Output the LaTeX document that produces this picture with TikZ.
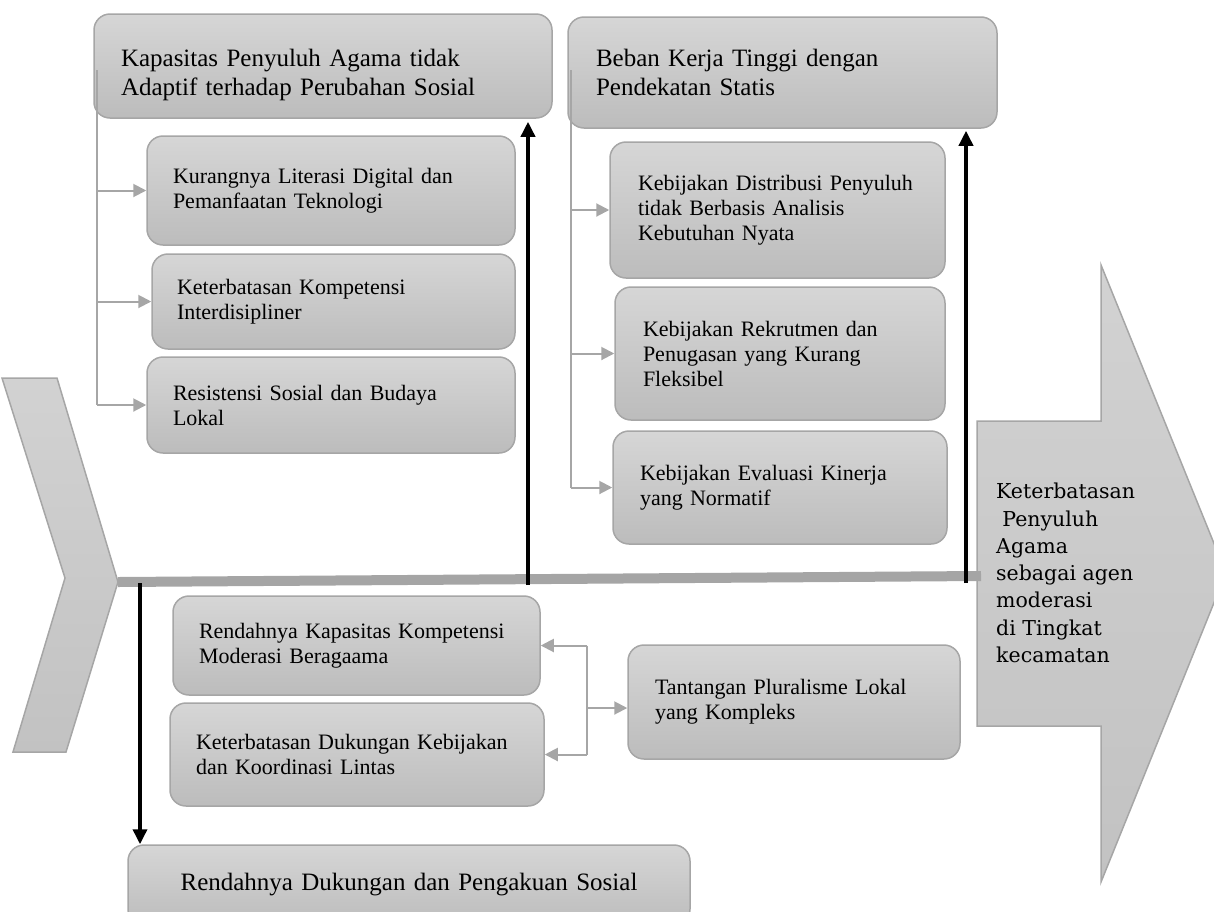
\documentclass[tikz,border=0pt]{standalone}
\usepackage{fontspec}
\setmainfont{Liberation Serif}
\newfontfamily\arrowfont{DejaVu Serif}
\usetikzlibrary{arrows.meta}
\definecolor{boxline}{HTML}{A6A6A6}
\definecolor{boxtop}{HTML}{D6D6D6}
\definecolor{boxbot}{HTML}{BCBCBC}
\definecolor{shapetop}{HTML}{D2D2D2}
\definecolor{shapebot}{HTML}{C2C2C2}
\definecolor{conn}{HTML}{A6A6A6}
\definecolor{spinecol}{HTML}{A5A5A5}
\tikzset{
  box/.style={draw=boxline, line width=1.5pt, rounded corners=16pt,
    top color=boxtop, bottom color=boxbot, inner ysep=0pt, align=left,
    font=\fontsize{22}{25}\selectfont},
  bigbox/.style={box, font=\fontsize{25}{29}\selectfont},
  centerbox/.style={box, align=center, font=\fontsize{25}{29}\selectfont},
  bigshape/.style={draw=boxline, line width=1.5pt, top color=shapetop, bottom color=shapebot},
  gline/.style={draw=conn, line width=2pt},
  garrow/.style={draw=conn, line width=2pt, -{Triangle[length=13pt,width=13pt,fill=conn]}},
  barrow/.style={draw=black, line width=3.5pt, -{Triangle[length=15pt,width=14pt]}},
  spine/.style={draw=spinecol, line width=10pt},
}
\newcommand\mkbox[8]{%
  \pgfmathsetmacro\mbW{#5-#3}\pgfmathsetmacro\mbH{#6-#4}%
  \pgfmathsetmacro\mbT{#5-#3-2*#7}%
  \pgfmathsetmacro\mbX{(#3+#5)/2}\pgfmathsetmacro\mbY{(#4+#6)/2}%
  \node[#1, minimum width=\mbW pt, minimum height=\mbH pt, text width=\mbT pt,
        inner xsep=#7pt] (#2) at (\mbX,\mbY) {#8};}
\begin{document}
\begin{tikzpicture}[x=1pt,y=-1pt]
\useasboundingbox (0,0) rectangle (1214,911);
\clip (0,0) rectangle (1214,911);
% left chevron (head of the fish bone)
\draw[bigshape] (2,378) -- (57,378) -- (118,582) -- (66,752) -- (13,752) -- (65,578) -- cycle;
\coordinate (chevtip) at (118,582);
% right big arrow (effect)
\draw[bigshape] (977,421) -- (1101,421) -- (1101,265) -- (1226,573) -- (1101,882) -- (1101,726) -- (977,726) -- cycle;
\coordinate (spineR) at (981,576);
% spine
\draw[spine] (chevtip) -- (spineR);
% result text
\node[anchor=north west, inner sep=0pt, align=left,
      font=\arrowfont\fontsize{20.5}{27.3}\selectfont] (result) at (996,483)
  {Keterbatasan\\\hspace{0.3em}Penyuluh\\Agama\\sebagai agen\\moderasi\\di Tingkat\\kecamatan};
% upper left group
\mkbox{bigbox}{kap}{94}{14}{552}{118}{27}{\rule{0pt}{36pt}Kapasitas Penyuluh Agama tidak\\Adaptif terhadap Perubahan Sosial}
\mkbox{box}{kur}{147}{136}{515}{245}{26}{Kurangnya Literasi Digital dan\\Pemanfaatan Teknologi}
\mkbox{box}{komp}{152}{254}{515}{349}{25}{Keterbatasan Kompetensi\\Interdisipliner}
\mkbox{box}{res}{147}{357}{515}{453}{26}{Resistensi Sosial dan Budaya\\Lokal}
% upper right group
\mkbox{bigbox}{beban}{568}{17}{997}{128}{28}{Beban Kerja Tinggi dengan\\Pendekatan Statis}
\mkbox{box}{dist}{610}{142}{945}{278}{28}{Kebijakan Distribusi Penyuluh\\tidak Berbasis Analisis\\Kebutuhan Nyata}
\mkbox{box}{rek}{615}{287}{945}{420}{28}{Kebijakan Rekrutmen dan\\Penugasan yang Kurang\\Fleksibel}
\mkbox{box}{eval}{613}{431}{947}{544}{27}{Kebijakan Evaluasi Kinerja\\yang Normatif}
% lower group
\mkbox{box}{rk}{173}{596}{540}{695}{26}{Rendahnya Kapasitas Kompetensi\\Moderasi Beragaama}
\mkbox{box}{kd}{170}{703}{544}{806}{26}{Keterbatasan Dukungan Kebijakan\\dan Koordinasi Lintas}
\mkbox{box}{tant}{628}{645}{960}{759}{27}{Tantangan Pluralisme Lokal\\yang Kompleks}
\mkbox{centerbox}{bot}{128}{845}{690}{925}{20}{Rendahnya Dukungan dan Pengakuan Sosial}
% gray connectors, upper left
\coordinate (tA) at (97,70);
\coordinate (tAend) at (97,405);
\draw[gline] (tA) -- (tAend);
\draw[garrow] (tA |- kur.west) -- (kur.west);
\draw[garrow] (tA |- komp.west) -- (komp.west);
\draw[garrow] (tA |- res.west) -- (res.west);
% gray connectors, upper right
\coordinate (tB) at (571,70);
\draw[gline] (tB) -- (tB |- eval.west);
\draw[garrow] (tB |- dist.west) -- (dist.west);
\draw[garrow] (tB |- rek.west) -- (rek.west);
\draw[garrow] (tB |- eval.west) -- (eval.west);
% gray connectors, lower
\coordinate (tC) at (587,708);
\draw[gline] (tC |- rk.east) -- (tC |- kd.east);
\draw[garrow] (tC |- rk.east) -- (rk.east);
\draw[garrow] (tC |- kd.east) -- (kd.east);
\draw[garrow] (tC) -- (tC -| tant.west);
% black arrows from the spine
\coordinate (bL) at (140,583);
\coordinate (bM) at (528,585);
\coordinate (bR) at (966,583);
\draw[barrow] (bL) -- (bL |- bot.north);
\draw[barrow, shorten >=3pt] (bM) -- (bM |- kap.south);
\draw[barrow, shorten >=2pt] (bR) -- (bR |- beban.south);
\end{tikzpicture}
\end{document}
